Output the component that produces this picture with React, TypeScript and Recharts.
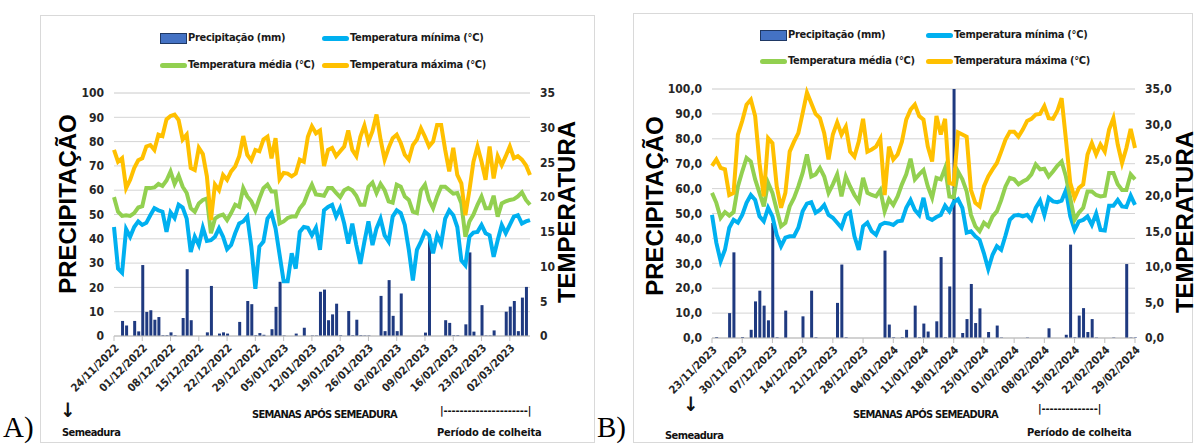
import React from 'react';
import { ComposedChart, Bar, Line, XAxis, YAxis, CartesianGrid } from 'recharts';

const SANS = '"Liberation Sans Narrow", "Arial Narrow", "DejaVu Sans Condensed", sans-serif';
const BOLD_TITLE = '"Liberation Sans", Arial, sans-serif';

const BLUE = '#00B0F0';
const GREEN = '#92D050';
const ORANGE = '#FFC000';
const NAVY = '#1F3A80';

// A) 24/11/2022 ... 07/03/2023, one value per day
const datesA = ['24/11/2022', '01/12/2022', '08/12/2022', '15/12/2022', '22/12/2022', '29/12/2022', '05/01/2023', '12/01/2023', '19/01/2023', '26/01/2023', '02/02/2023', '09/02/2023', '16/02/2023', '23/02/2023', '02/03/2023'];

const precipA = [
  0, 0, 6.2, 4.3, 0, 6.2, 1.9, 29.2, 9.9, 10.6,
  6.7, 7.8, 0.3, 0.3, 1.5, 0.3, 0, 7.4, 27.5, 6.5,
  0, 0, 0, 1.5, 20.6, 0, 1, 1.5, 1, 0,
  0, 5.8, 0, 14.4, 13.1, 0.3, 1.2, 0.5, 0, 2.8,
  12, 22.3, 0.2, 0, 0, 1, 0, 3.4, 0, 0.2,
  0.2, 18.2, 19.1, 6.5, 8.9, 13.3, 0.3, 0, 10.3, 0.3,
  6.7, 0.3, 0.2, 0.2, 0, 0, 16.5, 2, 23, 8.3,
  2, 17.5, 0, 0, 0, 0, 0, 1.4, 40, 0,
  0, 0, 6.5, 5.4, 0.3, 0.3, 0, 4.8, 34.4, 1.8,
  0, 12.7, 0.2, 0.2, 2.3, 0, 0, 10, 12.1, 14.4,
  2, 15.8, 20.2, 0,
];

const tminA = [
  15.7, 9.7, 9.1, 15.4, 14.3, 15.7, 16.5, 16.0, 16.3, 17.4,
  18.4, 18.1, 17.9, 15.0, 17.8, 17.0, 18.9, 18.5, 16.9, 12.1,
  14.3, 13.1, 15.6, 13.7, 13.8, 14.3, 15.5, 14.3, 12.5, 13.1,
  14.8, 16.2, 16.5, 17.2, 12.9, 6.8, 12.9, 13.6, 16.9, 17.7,
  15.5, 11.7, 7.9, 7.9, 11.9, 9.7, 15.0, 15.7, 15.6, 14.5,
  15.6, 12.4, 18.1, 18.6, 18.9, 17.2, 18.4, 16.2, 13.3, 16.2,
  13.1, 10.4, 13.6, 16.5, 13.1, 15.5, 16.9, 14.5, 13.6, 17.2,
  18.1, 17.7, 16.0, 12.4, 8.0, 12.4, 13.6, 15.0, 14.5, 11.9,
  14.5, 13.3, 16.9, 18.1, 17.4, 15.7, 10.9, 10.2, 14.3, 14.9,
  15.0, 16.0, 14.8, 14.5, 11.4, 13.8, 16.0, 14.8, 16.0, 17.2,
  17.4, 16.2, 16.5, 16.7,
];

const tmedA = [
  20.0, 17.9, 17.3, 17.4, 17.3, 17.7, 18.5, 18.7, 21.3, 21.3,
  21.4, 21.9, 21.6, 22.4, 23.7, 21.9, 23.1, 21.5, 20.6, 18.4,
  17.9, 19.1, 19.6, 19.8, 14.8, 16.9, 17.3, 17.5, 16.7, 17.7,
  18.9, 18.6, 21.3, 20.1, 19.4, 18.1, 19.8, 21.3, 21.8, 20.8,
  20.8, 16.2, 16.5, 17.0, 17.2, 17.2, 18.4, 19.1, 20.6, 21.8,
  20.4, 20.3, 20.2, 21.3, 21.3, 20.6, 20.0, 21.0, 21.3, 21.0,
  20.2, 18.9, 18.9, 21.5, 22.1, 20.6, 21.9, 21.0, 19.4, 19.2,
  21.8, 21.5, 20.1, 19.6, 17.9, 17.7, 21.0, 21.8, 19.6, 18.4,
  20.1, 21.5, 21.5, 21.0, 20.5, 20.6, 19.1, 14.3, 16.5, 17.5,
  18.9, 20.1, 18.4, 18.4, 20.2, 17.2, 19.1, 19.4, 19.6, 19.7,
  20.1, 20.7, 19.6, 18.9,
];

const tmaxA = [
  26.8, 25.1, 25.6, 21.3, 22.5, 24.2, 25.3, 25.6, 27.3, 27.5,
  26.8, 29.0, 28.8, 31.2, 31.7, 31.9, 31.1, 28.3, 29.0, 24.2,
  23.9, 27.1, 26.2, 23.0, 16.7, 21.8, 21.0, 23.2, 22.5, 23.7,
  24.4, 25.9, 28.8, 26.1, 25.3, 26.8, 26.6, 28.3, 28.7, 25.6,
  28.5, 22.6, 23.5, 23.4, 23.0, 23.4, 25.4, 25.1, 28.7, 30.2,
  29.2, 29.6, 24.5, 26.8, 27.1, 25.9, 26.6, 27.3, 29.6, 26.8,
  25.9, 28.7, 30.3, 28.0, 29.5, 31.9, 28.3, 25.4, 27.1, 28.5,
  29.0, 27.8, 26.1, 25.4, 27.5, 28.3, 29.9, 28.7, 27.3, 28.0,
  30.4, 30.4, 26.8, 23.7, 27.1, 23.2, 22.0, 17.4, 21.0, 25.1,
  27.3, 25.1, 22.5, 27.3, 22.7, 25.9, 24.6, 25.9, 27.3, 25.6,
  25.9, 25.4, 24.6, 23.2,
];

// B) 23/11/2023 ... 29/02/2024
const datesB = ['23/11/2023', '30/11/2023', '07/12/2023', '14/12/2023', '21/12/2023', '28/12/2023', '04/01/2024', '11/01/2024', '18/01/2024', '25/01/2024', '01/02/2024', '08/02/2024', '15/02/2024', '22/02/2024', '29/02/2024'];

const precipB = [
  0, 0.4, 0, 0, 10.0, 34.4, 0, 0.4, 0, 3.3,
  14.7, 19.0, 13.0, 7.1, 46.2, 0.3, 0, 11.0, 0, 0,
  0, 8.7, 0, 19.0, 0.3, 0, 0, 0, 0, 14.1,
  29.5, 0.3, 0, 0, 0, 0, 0, 0, 0, 0,
  35.1, 5.4, 0.3, 0, 0.3, 3.3, 0, 13.0, 0.3, 5.8,
  2.6, 0, 6.7, 32.5, 0.3, 20.7, 100, 0, 2.0, 7.6,
  21.7, 6.0, 11.9, 0, 2.4, 0, 5.0, 0.2, 0, 0,
  0, 0, 0, 0.2, 0, 0, 0, 0, 3.9, 0,
  0, 0, 1.3, 37.5, 0.3, 9.0, 12.0, 2.4, 7.6, 0.2,
  0, 0, 0, 0.2, 0, 0, 29.7, 0.2, 0.2,
];

const tminB = [
  17.3, 13.4, 10.8, 12.4, 15.5, 16.6, 16.2, 17.3, 19.0, 20.1,
  19.4, 17.1, 16.4, 18.3, 17.1, 14.5, 12.9, 14.1, 14.3, 14.3,
  15.5, 17.8, 18.9, 19.1, 17.6, 18.0, 18.7, 17.3, 16.9, 16.2,
  15.5, 17.3, 17.7, 14.3, 12.4, 15.7, 16.2, 15.0, 14.5, 15.9,
  16.2, 16.1, 15.9, 16.4, 16.5, 18.3, 19.4, 18.0, 17.3, 19.7,
  16.9, 16.6, 17.0, 17.3, 18.6, 17.8, 19.1, 19.5, 18.3, 14.8,
  15.0, 14.3, 13.8, 11.9, 9.7, 11.7, 12.9, 12.4, 14.4, 16.6,
  17.2, 17.3, 17.1, 17.3, 16.6, 18.3, 19.3, 17.3, 19.7, 19.2,
  19.1, 19.3, 20.8, 17.1, 15.2, 16.4, 16.6, 17.1, 15.9, 17.5,
  15.2, 15.1, 18.6, 18.6, 19.4, 18.5, 18.4, 20.0, 18.7,
];

const tmedB = [
  20.4, 19.0, 16.9, 17.7, 17.2, 17.7, 21.3, 23.4, 25.3, 24.8,
  22.3, 20.4, 18.5, 21.8, 20.4, 18.0, 15.7, 16.2, 18.5, 19.7,
  21.3, 23.2, 25.8, 22.7, 23.0, 23.9, 22.7, 20.4, 21.6, 23.0,
  19.9, 22.7, 21.3, 20.1, 19.2, 22.5, 20.4, 20.1, 19.9, 20.8,
  17.8, 19.5, 18.7, 19.9, 21.6, 23.0, 25.2, 22.3, 23.0, 23.6,
  21.3, 19.7, 22.5, 22.3, 23.9, 19.9, 19.8, 23.4, 22.3, 20.6,
  17.3, 15.7, 15.0, 16.2, 15.7, 17.1, 17.8, 19.4, 21.3, 22.5,
  22.3, 21.6, 22.0, 22.3, 23.0, 24.4, 23.7, 23.8, 22.7, 23.4,
  24.2, 24.8, 22.7, 19.7, 16.6, 17.6, 18.3, 20.6, 20.6, 20.1,
  19.9, 20.0, 23.2, 23.2, 21.6, 20.8, 20.8, 23.0, 22.3,
];

const tmaxB = [
  24.2, 25.1, 23.9, 23.7, 20.1, 20.4, 28.6, 30.5, 32.8, 33.5,
  31.2, 24.6, 19.9, 28.1, 27.4, 21.3, 18.3, 20.4, 26.2, 27.6,
  28.8, 31.6, 34.5, 33.0, 31.5, 30.9, 28.8, 25.1, 28.6, 30.3,
  28.6, 29.7, 26.2, 25.5, 27.6, 30.8, 26.2, 26.5, 26.9, 28.0,
  20.1, 26.9, 25.1, 25.8, 27.6, 30.7, 32.1, 32.8, 31.2, 30.7,
  26.9, 24.8, 31.2, 28.6, 30.8, 21.8, 21.6, 28.9, 28.6, 28.3,
  20.8, 19.0, 18.5, 21.3, 22.7, 23.7, 24.6, 26.2, 27.9, 29.0,
  29.0, 28.3, 29.3, 30.5, 30.8, 31.4, 31.5, 32.6, 30.9, 30.8,
  31.9, 33.7, 27.9, 21.8, 19.7, 21.1, 21.6, 25.8, 27.4, 25.8,
  27.2, 26.2, 29.3, 30.9, 27.2, 24.6, 26.7, 29.4, 26.7,
];

const precipTicks = [0, 10, 20, 30, 40, 50, 60, 70, 80, 90, 100];
const minorTicks = Array.from({ length: 51 }, (_, i) => i * 2);
const tempTicks = [0, 5, 10, 15, 20, 25, 30, 35];

function buildRows(prec: number[], tmin: number[], tmed: number[], tmax: number[]) {
  return prec.map((p, i) => ({ d: i, prec: p, tmin: tmin[i], tmed: tmed[i], tmax: tmax[i] }));
}

const numTick = { fontSize: 12, fontWeight: 700, fill: '#262626', fontFamily: SANS };
const dateTick = { fontSize: 11, fontWeight: 700, fill: '#262626', fontFamily: SANS };

function Panel({ rows, dates, decimals, width, margin, yWidth }: any) {
  const last = rows.length - 1;
  const fmt = (v: number) => (decimals ? v.toFixed(1).replace('.', ',') : String(v));
  return (
    <ComposedChart width={width} height={444} data={rows} margin={margin}>
      <CartesianGrid yAxisId="minor" vertical={false} stroke="#ebebeb" />
      <CartesianGrid yAxisId="p" vertical={false} stroke="#d4d4d4" />
      <XAxis
        dataKey="d"
        type="number"
        domain={[0, last]}
        ticks={dates.map((_: string, i: number) => i * 7)}
        tickFormatter={(v: number) => dates[v / 7]}
        interval={0}
        height={60}
        angle={-45}
        textAnchor="end"
        tick={dateTick}
        tickSize={5}
        tickMargin={2}
        stroke="#bfbfbf"
      />
      <YAxis
        yAxisId="p"
        domain={[0, 100]}
        ticks={precipTicks}
        tickFormatter={fmt}
        axisLine={false}
        tickLine={false}
        tick={numTick}
        tickMargin={4}
        width={yWidth}
      />
      <YAxis
        yAxisId="t"
        orientation="right"
        domain={[0, 35]}
        ticks={tempTicks}
        tickFormatter={fmt}
        axisLine={false}
        tickLine={false}
        tick={numTick}
        tickMargin={4}
        width={yWidth}
      />
      <YAxis yAxisId="minor" hide width={0} domain={[0, 100]} ticks={minorTicks} />
      <Bar yAxisId="p" dataKey="prec" fill={NAVY} barSize={3} isAnimationActive={false} />
      <Line yAxisId="t" dataKey="tmin" stroke={BLUE} strokeWidth={4} dot={false} type="linear" isAnimationActive={false} />
      <Line yAxisId="t" dataKey="tmed" stroke={GREEN} strokeWidth={4} dot={false} type="linear" isAnimationActive={false} />
      <Line yAxisId="t" dataKey="tmax" stroke={ORANGE} strokeWidth={4} dot={false} type="linear" isAnimationActive={false} />
    </ComposedChart>
  );
}

const abs = (style: React.CSSProperties): React.CSSProperties => ({ position: 'absolute', whiteSpace: 'nowrap', ...style });

function LegendBlock({ x1, x2, y1, y2 }: { x1: number; x2: number; y1: number; y2: number }) {
  const txt = (x: number, y: number, s: string) => (
    <div style={abs({ left: x + 28, top: y - 8, fontSize: 11, fontWeight: 700, letterSpacing: -0.3, lineHeight: '16px', color: '#1a1a1a', fontFamily: SANS })}>{s}</div>
  );
  const line = (x: number, y: number, c: string) => (
    <div style={abs({ left: x, top: y - 2.5, width: 27, height: 5, borderRadius: 3, background: c })} />
  );
  return (
    <>
      <div style={abs({ left: x1, top: y1 - 5, width: 25, height: 9, background: '#4472C4', border: '1px solid #1F3864' })} />
      {txt(x1, y1, 'Precipitação (mm)')}
      {line(x2, y1, BLUE)}
      {txt(x2, y1, 'Temperatura mínima (°C)')}
      {line(x1, y2, GREEN)}
      {txt(x1, y2, 'Temperatura média (°C)')}
      {line(x2, y2, ORANGE)}
      {txt(x2, y2, 'Temperatura máxima (°C)')}
    </>
  );
}

function Rotated({ cx, cy, text }: { cx: number; cy: number; text: string }) {
  return (
    <div
      style={abs({
        left: cx,
        top: cy,
        transform: 'translate(-50%, -50%) rotate(-90deg)',
        fontFamily: BOLD_TITLE,
        fontWeight: 700,
        fontSize: 24,
        lineHeight: '26px',
        color: '#000',
      })}
    >
      {text}
    </div>
  );
}

function Note({ x, y, text, size = 11, ls = 0 }: { x: number; y: number; text: string; size?: number; ls?: number }) {
  return (
    <div style={abs({ left: x, top: y - 8, fontSize: size, fontWeight: 700, letterSpacing: ls, lineHeight: '16px', color: '#111', fontFamily: SANS })}>{text}</div>
  );
}

export default function App() {
  const rowsA = buildRows(precipA, tminA, tmedA, tmaxA);
  const rowsB = buildRows(precipB, tminB, tmedB, tmaxB);
  const serif = '"Liberation Serif", "Times New Roman", serif';
  return (
    <div style={{ position: 'absolute', left: 0, top: 0, width: 1199, height: 444, background: '#fff', overflow: 'hidden' }}>
      <div style={abs({ left: 40, top: 15, width: 555, height: 428, border: '1px solid #d9d9d9', boxSizing: 'border-box' })} />
      <div style={abs({ left: 633, top: 13, width: 560, height: 430, border: '1px solid #d9d9d9', boxSizing: 'border-box' })} />

      <div style={abs({ left: 0, top: 0 })}>
        <Panel rows={rowsA} dates={datesA} decimals={false} width={600} yWidth={30} margin={{ top: 93, right: 40, bottom: 48, left: 84 }} />
      </div>
      <div style={abs({ left: 600, top: 0 })}>
        <Panel rows={rowsB} dates={datesB} decimals={true} width={599} yWidth={40} margin={{ top: 89, right: 24, bottom: 46, left: 72 }} />
      </div>

      <LegendBlock x1={160} x2={322} y1={38} y2={65} />
      <LegendBlock x1={760} x2={926} y1={35} y2={61} />

      <Rotated cx={68} cy={204} text="PRECIPITAÇÃO" />
      <Rotated cx={567} cy={212} text="TEMPERATURA" />
      <Rotated cx={655} cy={206} text="PRECIPITAÇÃO" />
      <Rotated cx={1185} cy={222} text="TEMPERATURA" />

      <Note x={60} y={410} text="↓" size={20} />
      <Note x={62} y={433} text="Semeadura" ls={-0.55} />
      <Note x={252} y={415} text="SEMANAS APÓS SEMEADURA" ls={-0.75} />
      <Note x={440} y={411} text="|---------------------|" ls={-0.1} />
      <Note x={437} y={433} text="Período de colheita" ls={-0.2} />

      <Note x={683} y={404} text="↓" size={20} />
      <Note x={665} y={436} text="Semeadura" ls={-0.55} />
      <Note x={853} y={415} text="SEMANAS APÓS SEMEADURA" ls={-0.75} />
      <Note x={1038} y={409} text="|--------------|" ls={-0.1} />
      <Note x={1027} y={433} text="Período de colheita" ls={-0.2} />

      <div style={abs({ left: 3, top: 412, fontSize: 29, lineHeight: '30px', fontFamily: serif, color: '#000' })}>A)</div>
      <div style={abs({ left: 597, top: 412, fontSize: 29, lineHeight: '30px', fontFamily: serif, color: '#000' })}>B)</div>
    </div>
  );
}
